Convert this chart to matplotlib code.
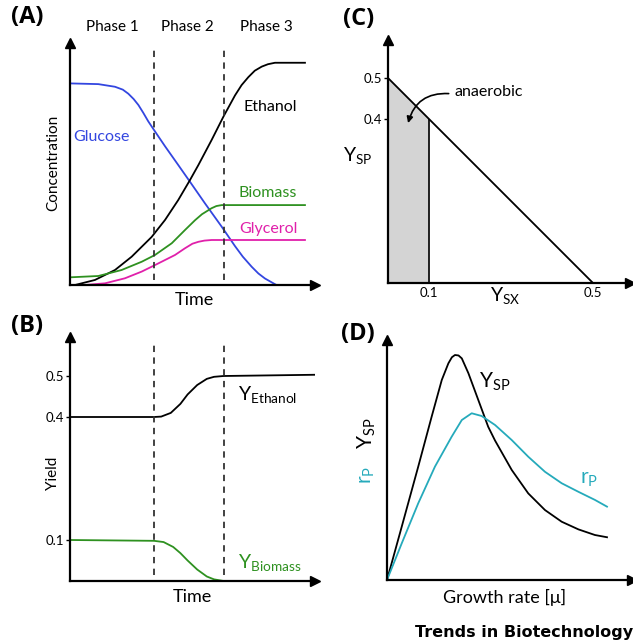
import numpy as np
import matplotlib
matplotlib.use('Agg')
import matplotlib.pyplot as plt

# ---- data (arbitrary units) ----
# (A) concentrations vs time
glucose_t = [0, 1.18, 1.875, 2.2, 2.43, 2.65, 2.85, 3.05, 3.26, 3.54, 3.96, 4.51, 5.0, 5.625, 6.32, 6.875, 7.2, 7.57, 7.85, 8.125, 8.6]
glucose_c = [8.40, 8.37, 8.26, 8.14, 7.97, 7.75, 7.5, 7.18, 6.82, 6.4, 5.78, 5.0, 4.3, 3.4, 2.43, 1.62, 1.18, 0.76, 0.48, 0.27, 0.0]
ethanol_t = [0.21, 1.04, 1.875, 2.57, 3.4, 3.96, 4.51, 5.0, 5.35, 5.9, 6.39, 6.875, 7.15, 7.43, 7.7, 7.99, 8.25, 8.54, 9.79]
ethanol_c = [0.0, 0.21, 0.625, 1.18, 2.0, 2.71, 3.54, 4.375, 5.0, 6.04, 7.01, 7.9, 8.33, 8.66, 8.93, 9.1, 9.2, 9.26, 9.26]
biomass_t = [0, 1.18, 2.15, 2.99, 3.54, 4.24, 4.79, 5.21, 5.5, 5.9, 6.1, 6.32, 9.79]
biomass_c = [0.32, 0.375, 0.625, 0.97, 1.25, 1.74, 2.29, 2.7, 2.95, 3.2, 3.29, 3.33, 3.33]
glycerol_t = [0.625, 1.46, 2.29, 2.99, 3.54, 4.375, 4.79, 5.1, 5.35, 5.6, 5.9, 9.79]
glycerol_c = [0.0, 0.07, 0.28, 0.56, 0.83, 1.25, 1.53, 1.72, 1.8, 1.85, 1.875, 1.875]
phase_bounds = [3.5, 6.4]

# (B) yields vs time
y_eth_t = [0, 3.5, 3.8, 4.2, 4.6, 4.9, 5.3, 5.7, 6.0, 6.4, 10.2]
y_eth = [0.4, 0.4, 0.401, 0.41, 0.432, 0.455, 0.478, 0.493, 0.498, 0.5, 0.503]
y_bio_t = [0, 3.5, 3.9, 4.3, 4.6, 4.9, 5.3, 5.7, 6.0, 6.4, 10.2]
y_bio = [0.1, 0.098, 0.095, 0.083, 0.068, 0.05, 0.028, 0.011, 0.004, 0.0, 0.0]

# (C) Y_SP vs Y_SX trade-off
ysx = [0.0, 0.5]
ysp = [0.5, 0.0]
ysx_anaerobic = 0.1

# (D) yield and rate vs growth rate
mu_y = [0, 0.067, 0.142, 0.203, 0.249, 0.279, 0.295, 0.309, 0.325, 0.34, 0.37, 0.415, 0.46, 0.491,
	0.567, 0.642, 0.718, 0.794, 0.87, 0.945, 1.0]
ysp_mu = [0, 0.237, 0.504, 0.726, 0.889, 0.963, 0.99, 1.0, 0.998, 0.985, 0.919, 0.8, 0.681, 0.62,
	0.489, 0.385, 0.311, 0.259, 0.225, 0.2, 0.19]
mu_r = [0, 0.067, 0.142, 0.218, 0.294, 0.34, 0.385, 0.43, 0.491, 0.567, 0.642, 0.718,
	0.794, 0.87, 0.945, 1.0]
rp_mu = [0, 0.163, 0.341, 0.504, 0.637, 0.711, 0.741, 0.729, 0.689, 0.622, 0.548, 0.481,
	0.43, 0.392, 0.356, 0.326]

BLUE = '#3346e0'
GREEN = '#2e9120'
MAGENTA = '#e020aa'
CYAN = '#25aabb'
FONT = ['Lato', 'DejaVu Sans']

plt.rcParams['font.family'] = FONT
plt.rcParams['mathtext.fontset'] = 'custom'
plt.rcParams['mathtext.rm'] = 'Lato'
plt.rcParams['mathtext.it'] = 'Lato'

W, H = 633, 640
fig = plt.figure(figsize=(W / 100, H / 100), dpi=100)


def px_axes(x0, y0, x1, y1):
	# axes rectangle from pixel box (left, top, right, bottom)
	return fig.add_axes([x0 / W, 1 - y1 / H, (x1 - x0) / W, (y1 - y0) / H])


def arrow_axes(ax):
	for s in ['top', 'right']:
		ax.spines[s].set_visible(False)
	for s in ['left', 'bottom']:
		ax.spines[s].set_linewidth(1.6)
	ax.plot(1, 0, '>', ms=7, color='k', transform=ax.transAxes, clip_on=False)
	ax.plot(0, 1, '^', ms=7, color='k', transform=ax.transAxes, clip_on=False)
	ax.set_xticks([])
	ax.set_yticks([])


LW = 1.3

# ---------------- (A) ----------------
axA = px_axes(70, 43, 315, 285)
arrow_axes(axA)
axA.set_xlim(0, 245 / 24)
axA.set_ylim(0, 242 / 24)
axA.plot(glucose_t, glucose_c, color=BLUE, lw=LW)
axA.plot(ethanol_t, ethanol_c, color='k', lw=LW)
axA.plot(biomass_t, biomass_c, color=GREEN, lw=LW)
axA.plot(glycerol_t, glycerol_c, color=MAGENTA, lw=LW)
axA.vlines(phase_bounds, 0.2, 9.9, colors='#333333', linestyles=(0, (3.5, 3)), lw=1.3)
for x, s in zip([1.75, 4.9, 8.2], ['Phase 1', 'Phase 2', 'Phase 3']):
	axA.text(x, 10.75, s, ha='center', va='center', fontsize=11, clip_on=False)
axA.text(8.33, 7.4, 'Ethanol', ha='center', va='center', fontsize=11.5)
axA.text(1.33, 6.17, 'Glucose', ha='center', va='center', fontsize=11.5, color=BLUE)
axA.text(8.25, 3.83, 'Biomass', ha='center', va='center', fontsize=11.5, color=GREEN)
axA.text(8.25, 2.33, 'Glycerol', ha='center', va='center', fontsize=11.5, color=MAGENTA)
axA.text(5.17, -0.62, 'Time', ha='center', va='center', fontsize=13, clip_on=False)
axA.text(-0.71, 5.08, 'Concentration', ha='center', va='center', rotation=90, fontsize=11)

# ---------------- (B) ----------------
axB = px_axes(70, 337, 315, 581)
arrow_axes(axB)
axB.set_xlim(0, 245 / 24)
axB.set_ylim(0, 244 / 410)
axB.plot(y_eth_t, y_eth, color='k', lw=LW)
axB.plot(y_bio_t, y_bio, color=GREEN, lw=LW)
axB.vlines(phase_bounds, 0.015, 0.575, colors='#333333', linestyles=(0, (3.5, 3)), lw=1.3)
axB.set_yticks([0.1, 0.4, 0.5])
axB.set_yticklabels(['0.1', '0.4', '0.5'])
axB.tick_params(axis='y', length=3, width=1, labelsize=9.5, pad=1)
axB.text(7.0, 0.455, r'$\mathregular{Y_{Ethanol}}$', ha='left', va='center', fontsize=14)
axB.text(7.0, 0.045, r'$\mathregular{Y_{Biomass}}$', ha='left', va='center', fontsize=14, color=GREEN)
axB.text(5.1, -0.04, 'Time', ha='center', va='center', fontsize=13, clip_on=False)
axB.text(-0.71, 0.263, 'Yield', ha='center', va='center', rotation=90, fontsize=11)

# ---------------- (C) ----------------
axC = px_axes(388, 40, 630, 283)
arrow_axes(axC)
axC.set_xlim(0, 242 / 410)
axC.set_ylim(0, 243 / 410)
xs = np.array([0, ysx_anaerobic])
axC.fill_between(xs, 0, np.interp(xs, ysx, ysp), color='#d4d4d4', lw=0)
axC.plot(ysx, ysp, color='k', lw=LW)
axC.vlines(ysx_anaerobic, 0, np.interp(ysx_anaerobic, ysx, ysp), colors='k', lw=1.2)
axC.set_yticks([0.4, 0.5])
axC.set_yticklabels(['0.4', '0.5'])
axC.set_xticks([0.1, 0.5])
axC.set_xticklabels(['0.1', '0.5'])
axC.tick_params(axis='y', length=3, width=1, labelsize=9.5, pad=1)
axC.tick_params(axis='x', length=0, labelsize=9.5, pad=3)
axC.annotate('', xy=(0.049, 0.39), xytext=(0.148, 0.462),
	arrowprops=dict(arrowstyle='-|>', color='k', lw=1.2, mutation_scale=9,
		connectionstyle='arc3,rad=0.4', shrinkA=0, shrinkB=0))
axC.text(0.162, 0.466, 'anaerobic', ha='left', va='center', fontsize=11.5)
axC.text(-0.073, 0.31, r'$\mathregular{Y_{SP}}$', ha='center', va='center', fontsize=14)
axC.text(0.285, -0.03, r'$\mathregular{Y_{SX}}$', ha='center', va='center', fontsize=14, clip_on=False)

# ---------------- (D) ----------------
axD = px_axes(387, 340, 632, 580)
arrow_axes(axD)
axD.set_xlim(0, 245 / 220)
axD.set_ylim(0, 240 / 225)
axD.plot(mu_y, ysp_mu, color='k', lw=LW)
axD.plot(mu_r, rp_mu, color=CYAN, lw=LW)
axD.text(0.42, 0.88, r'$\mathregular{Y_{SP}}$', ha='left', va='center', fontsize=15)
axD.text(0.875, 0.45, r'$\mathregular{r_{P}}$', ha='left', va='center', fontsize=15, color=CYAN)
axD.text(-0.09, 0.653, r'$\mathregular{Y_{SP}}$', ha='center', va='center', rotation=90, fontsize=15)
axD.text(-0.09, 0.467, r'$\mathregular{r_{P}}$', ha='center', va='center', rotation=90, fontsize=15, color=CYAN)
axD.text(0.536, -0.076, 'Growth rate [\u03bc]', ha='center', va='center', fontsize=13, clip_on=False)

# panel letters
for x, y, s in [(11, 17, '(A)'), (11, 326, '(B)'), (343, 19, '(C)'), (341, 334, '(D)')]:
	fig.text(x / W, 1 - y / H, s, ha='left', va='center', fontsize=17, fontweight='bold',
		family=['Open Sans', 'DejaVu Sans'])

fig.text(633 / W, 1 - 632 / H, 'Trends in Biotechnology', ha='right', va='center',
	fontsize=11.5, fontweight='bold', family=['Liberation Sans Narrow', 'DejaVu Sans'])

fig.savefig('out.png', dpi=100)
